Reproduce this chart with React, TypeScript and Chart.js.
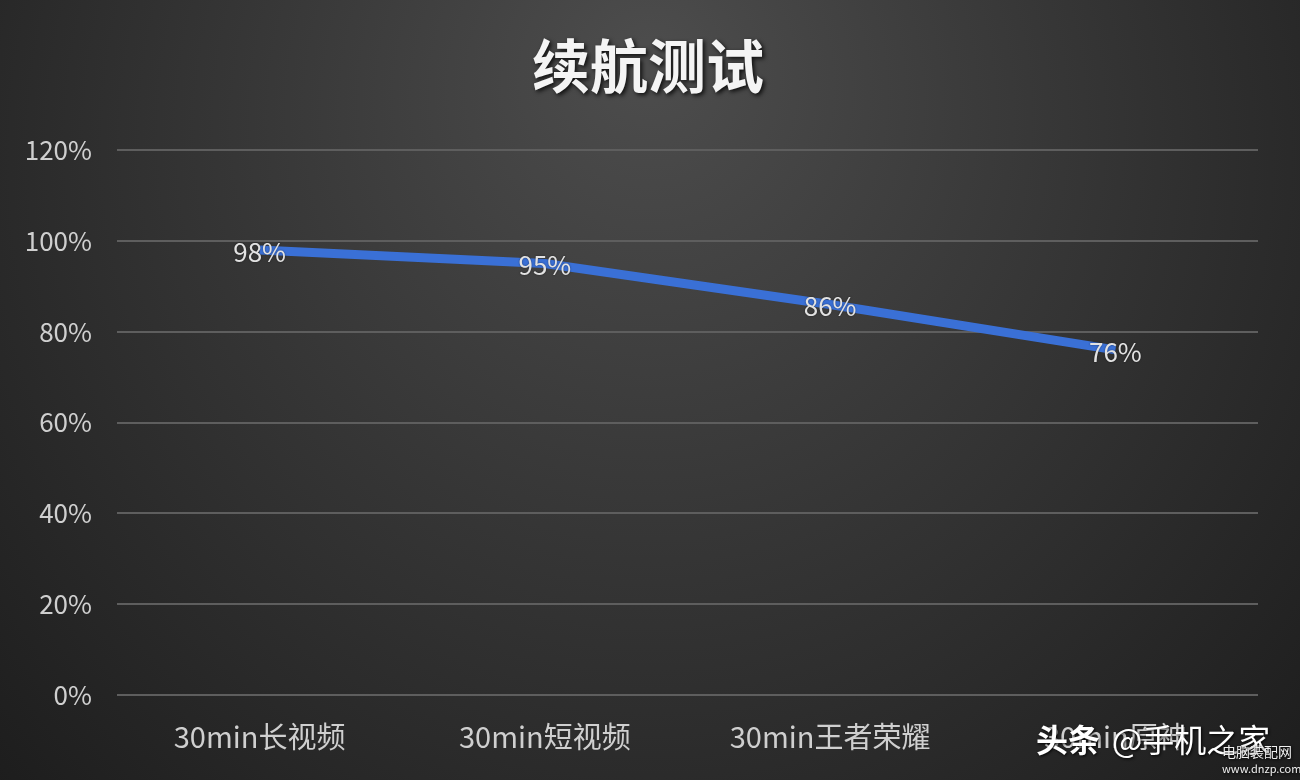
import React, { useEffect, useRef } from "react";
import { Chart, registerables } from "chart.js";

Chart.register(...registerables);

const title = "续航测试";
const categories = ["30min长视频", "30min短视频", "30min王者荣耀", "30min原神"];
const batteryLeft = [98, 95, 86, 76];
const yTicks = [0, 20, 40, 60, 80, 100, 120];

const FONT = '"Noto Sans CJK SC", "Noto Sans", sans-serif';

const bgPlugin = {
  id: "bg",
  beforeDraw(chart: any) {
    const { ctx, width, height } = chart;
    ctx.save();
    const g = ctx.createRadialGradient(650, 60, 20, 650, 200, 900);
    g.addColorStop(0, "#4c4c4c");
    g.addColorStop(0.45, "#363636");
    g.addColorStop(1, "#1c1c1c");
    ctx.fillStyle = g;
    ctx.fillRect(0, 0, width, height);
    ctx.restore();
  },
};

const titlePlugin = {
  id: "customTitle",
  afterDraw(chart: any) {
    const { ctx } = chart;
    ctx.save();
    ctx.font = `bold 58px ${FONT}`;
    ctx.textAlign = "center";
    ctx.textBaseline = "middle";
    ctx.shadowColor = "rgba(0,0,0,0.8)";
    ctx.shadowBlur = 4;
    ctx.shadowOffsetX = 2;
    ctx.shadowOffsetY = 2;
    ctx.fillStyle = "#f4f4f4";
    ctx.fillText(title, 648, 66);
    ctx.restore();
  },
};

const labelPlugin = {
  id: "pointLabels",
  afterDatasetsDraw(chart: any) {
    const { ctx } = chart;
    const meta = chart.getDatasetMeta(0);
    ctx.save();
    ctx.font = `26px ${FONT}`;
    ctx.textAlign = "center";
    ctx.textBaseline = "middle";
    ctx.fillStyle = "#e2e2e2";
    ctx.shadowColor = "rgba(0,0,0,0.5)";
    ctx.shadowBlur = 2;
    meta.data.forEach((pt: any, i: number) => {
      ctx.fillText(batteryLeft[i] + "%", pt.x, pt.y + 2);
    });
    ctx.restore();
  },
};

const watermarkPlugin = {
  id: "watermark",
  afterDraw(chart: any) {
    const { ctx } = chart;
    ctx.save();
    ctx.textBaseline = "middle";
    ctx.shadowColor = "rgba(0,0,0,0.9)";
    ctx.shadowBlur = 3;
    ctx.shadowOffsetX = 1;
    ctx.shadowOffsetY = 1;
    ctx.fillStyle = "#ffffff";
    ctx.font = `bold 32px ${FONT}`;
    ctx.textAlign = "left";
    ctx.fillText("头条", 1036, 740);
    ctx.font = `32px ${FONT}`;
    ctx.fillText("@手机之家", 1112, 740);
    ctx.font = `14px ${FONT}`;
    ctx.fillStyle = "#f0f0f0";
    ctx.fillText("电脑装配网", 1222, 752);
    ctx.font = `11px ${FONT}`;
    ctx.fillText("www.dnzp.com", 1222, 769);
    ctx.restore();
  },
};

export default function App() {
  const ref = useRef<HTMLCanvasElement>(null);
  useEffect(() => {
    document.body.style.margin = "0";
    const chart = new Chart(ref.current!, {
      type: "line",
      data: {
        labels: categories,
        datasets: [
          {
            data: batteryLeft,
            borderColor: "#3a70d6",
            borderWidth: 9,
            pointRadius: 0,
            pointHoverRadius: 0,
            tension: 0,
            borderCapStyle: "butt",
          },
        ],
      },
      options: {
        animation: false,
        responsive: false,
        layout: { padding: { top: 150, right: 42, bottom: 2, left: 0 } },
        plugins: {
          legend: { display: false },
          title: { display: false },
          tooltip: { enabled: false },
        },
        scales: {
          x: {
            offset: true,
            grid: { display: false, drawTicks: false },
            border: { display: false },
            ticks: {
              padding: 24,
              color: "#cfcfcf",
              font: { family: FONT, size: 29 },
              maxRotation: 0,
              autoSkip: false,
            },
          },
          y: {
            min: 0,
            max: 120,
            afterFit(scale: any) {
              scale.width = 117;
            },
            afterBuildTicks(scale: any) {
              scale.ticks = yTicks.map((v) => ({ value: v }));
            },
            grid: { color: "#5e5e5e", lineWidth: 2, drawTicks: false },
            border: { display: false },
            ticks: {
              padding: 25,
              color: "#cfcfcf",
              font: { family: FONT, size: 26 },
              callback: (v: any) => v + "%",
            },
          },
        },
      },
      plugins: [bgPlugin, titlePlugin, labelPlugin, watermarkPlugin],
    });
    return () => chart.destroy();
  }, []);
  return (
    <div style={{ position: "absolute", left: 0, top: 0, width: 1300, height: 780 }}>
      <canvas ref={ref} width={1300} height={780} style={{ display: "block" }} />
    </div>
  );
}
